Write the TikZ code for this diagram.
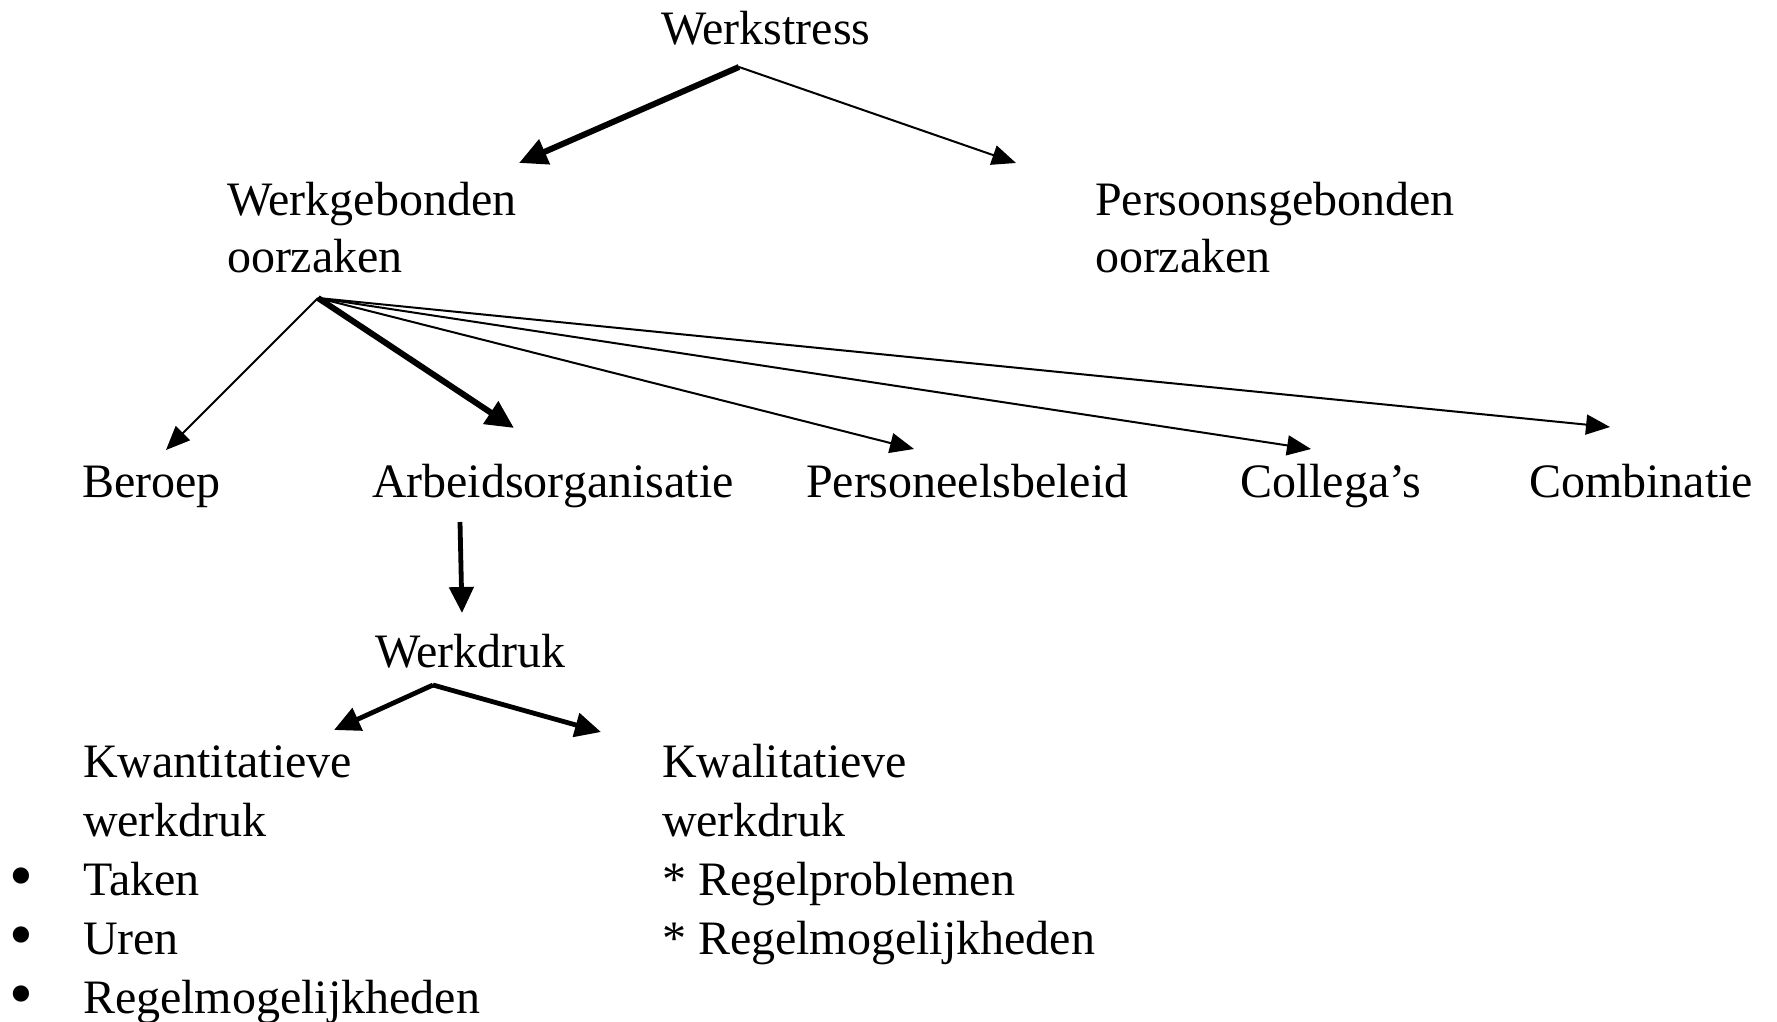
\documentclass[tikz,border=0pt]{standalone}
\usepackage{fontspec}
\setmainfont{Liberation Serif}
\usetikzlibrary{arrows.meta}
\newcommand{\bigbul}{\smash{\raisebox{-1.5pt}{\fontsize{34}{29.5}\selectfont\textbullet}}}
\begin{document}
\begin{tikzpicture}[x=0.5pt,y=-0.5pt,
  lbl/.style={anchor=base west,inner sep=0pt,outer sep=0pt,font=\fontsize{24}{29.5}\selectfont},
  thin arrow/.style={line width=1pt,-{Triangle[length=12pt,width=10pt]}},
  thick arrow/.style={line width=3pt,-{Triangle[length=14pt,width=13pt]}},
  mid arrow/.style={line width=2.4pt,-{Triangle[length=13pt,width=12pt]}}]
\useasboundingbox (0,0) rectangle (1777,1022);
% text nodes
\node[lbl] (werkstress) at (661,45) {Werkstress};
\node[lbl,font=\fontsize{24}{28.5}\selectfont] (werkgeb) at (227,215) {\begin{tabular}[t]{@{}l@{}}Werkgebonden\\oorzaken\end{tabular}};
\node[lbl,font=\fontsize{24}{28.5}\selectfont] (persgeb) at (1095,215) {\begin{tabular}[t]{@{}l@{}}Persoonsgebonden\\oorzaken\end{tabular}};
\node[lbl] (beroep) at (82,497) {Beroep};
\node[lbl] (arbeid) at (372,497) {Arbeidsorganisatie};
\node[lbl] (personeel) at (806,497) {Personeelsbeleid};
\node[lbl] (collegas) at (1240,497) {Collega’s};
\node[lbl] (combinatie) at (1529,497) {Combinatie};
\node[lbl] (werkdruk) at (375,667) {Werkdruk};
\node[lbl] (kwant) at (10,777) {\begin{tabular}[t]{@{}p{36.5pt}@{}l@{}}
 & Kwantitatieve\\
 & werkdruk\\
 \bigbul & Taken\\
 \bigbul & Uren\\
 \bigbul & Regelmogelijkheden\end{tabular}};
\node[lbl] (kwal) at (662,777) {\begin{tabular}[t]{@{}l@{}}Kwalitatieve\\werkdruk\\{*} Regelproblemen\\{*} Regelmogelijkheden\end{tabular}};
% connector end points
\coordinate (ws) at (739,67);
\coordinate (wgtip) at (519,163);
\coordinate (pgtip) at (1016,163);
\coordinate (wg) at (318,298);
\coordinate (bertip) at (166,450);
\coordinate (arbtip) at (514,428);
\coordinate (pertip) at (914,449);
\coordinate (coltip) at (1311,449);
\coordinate (comtip) at (1610,427);
\coordinate (arb) at (460,522);
\coordinate (wdtip) at (462,613);
\coordinate (wd) at (433,685);
\coordinate (kwanttip) at (334,730);
\coordinate (kwaltip) at (601,732);
% connectors
\draw[thick arrow] (ws) -- (wgtip);
\draw[thin arrow] (ws) -- (pgtip);
\draw[thin arrow] (wg) -- (bertip);
\draw[thick arrow] (wg) -- (arbtip);
\draw[thin arrow] (wg) -- (pertip);
\draw[thin arrow] (wg) -- (coltip);
\draw[thin arrow] (wg) -- (comtip);
\draw[mid arrow] (arb) -- (wdtip);
\draw[mid arrow] (wd) -- (kwanttip);
\draw[mid arrow] (wd) -- (kwaltip);
\end{tikzpicture}
\end{document}
